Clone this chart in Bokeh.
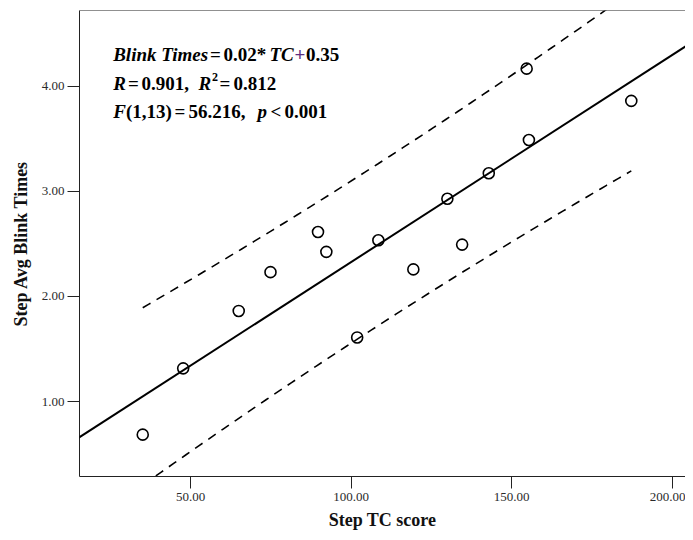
import numpy as np
from bokeh.plotting import figure
from bokeh.models import (Range1d, FixedTicker, NumeralTickFormatter, Slope, Span)
from bokeh.core.properties import value
from bokeh.embed import file_html
from bokeh.resources import INLINE

# ---- data ----
tc_score = [35.1, 47.7, 65.0, 74.9, 89.7, 92.3, 101.9, 108.5, 119.4, 130.0,
            134.6, 142.9, 155.4, 154.7, 187.3]
blink_times = [0.685, 1.316, 1.862, 2.231, 2.613, 2.424, 1.61, 2.534, 2.257, 2.929,
               2.493, 3.172, 3.488, 4.167, 3.860]
x_ticks = [50, 100, 150, 200]
y_ticks = [1, 2, 3, 4]
x_title = "Step TC score"
y_title = "Step Avg Blink Times"
t_crit = 1.771  # t(0.95, 13) for the dashed prediction band

# ---- regression from the data ----
xa = np.array(tc_score)
ya = np.array(blink_times)
n = len(xa)
b, a = np.polyfit(xa, ya, 1)
resid = ya - (a + b * xa)
s = np.sqrt((resid ** 2).sum() / (n - 2))
xm = xa.mean()
sxx = ((xa - xm) ** 2).sum()
xs = np.linspace(xa.min(), xa.max(), 80)
half = t_crit * s * np.sqrt(1 + 1 / n + (xs - xm) ** 2 / sxx)
fit = a + b * xs

FL, FT = 79, 10          # frame left / top in picture pixels
W, H = 685, 532
FW = W - FL              # frame width (right border 0)
FH = 468
PXU = 3.21               # pixels per TC unit
X0 = 15.4
X1 = X0 + FW / PXU
Y0, Y1 = 0.287, 4.72

p = figure(width=W, height=H, output_backend="svg", toolbar_location=None,
           x_range=Range1d(X0, X1), y_range=Range1d(Y0, Y1),
           min_border_left=FL, min_border_right=0, min_border_top=FT,
           min_border_bottom=H - FT - FH, background_fill_color="white",
           border_fill_color="white")
p.xgrid.visible = False
p.ygrid.visible = False
p.outline_line_color = None

serif = "Liberation Serif"
for ax in (p.xaxis[0], p.yaxis[0]):
    ax.axis_line_color = "#222222"
    ax.major_tick_line_color = "#222222"
    ax.major_tick_out = 12
    ax.major_tick_in = 0
    ax.minor_tick_line_color = None
    ax.major_label_text_font = serif
    ax.major_label_text_font_size = "13px"
    ax.major_label_text_color = "#2a2a2a"
    ax.axis_label_text_font = serif
    ax.axis_label_text_font_style = "bold"
    ax.axis_label_text_font_size = "18px"
    ax.axis_label_text_color = "#111111"
    ax.formatter = NumeralTickFormatter(format="0.00")
p.xaxis[0].ticker = FixedTicker(ticks=x_ticks)
p.yaxis[0].ticker = FixedTicker(ticks=y_ticks)
p.xaxis[0].axis_label = x_title
p.yaxis[0].axis_label = y_title
p.xaxis[0].major_label_standoff = 4
p.yaxis[0].major_label_standoff = 3
p.xaxis[0].axis_label_standoff = 6
p.yaxis[0].axis_label_standoff = 8

p.add_layout(Span(location=Y1, dimension="width", line_color="#222222", line_width=1))

# prediction band
p.line(xs, fit + half, line_color="black", line_width=1.6, line_dash="9 7")
p.line(xs, fit - half, line_color="black", line_width=1.6, line_dash="9 7")
# fit line
p.add_layout(Slope(gradient=b, y_intercept=a, line_color="black", line_width=2))

p.scatter(tc_score, blink_times, marker="circle", size=11, fill_color=None,
          line_color="black", line_width=1.6)

# ---- annotation (pieces positioned in picture pixels) ----
def dx(px):
    return X0 + (px - FL) / PXU

def dy(py):
    return Y1 - (py - FT) / FH * (Y1 - Y0)

pieces = [
    # text, x, baseline y, style, size, color
    ("Blink Times", 112.7, 54.5, "bold italic", "19px", "black"),
    ("=", 209.5, 54.5, "bold", "19px", "black"),
    ("0.02*", 223, 54.5, "bold", "19px", "black"),
    ("TC", 269, 54.5, "bold italic", "19px", "black"),
    ("+", 294, 54.5, "bold", "19px", "#5b2d82"),
    ("0.35", 305.5, 54.5, "bold", "19px", "black"),
    ("R", 112.7, 83.5, "bold italic", "19px", "black"),
    ("=", 127.5, 83.5, "bold", "19px", "black"),
    ("0.901,", 141, 83.5, "bold", "19px", "black"),
    ("R", 198, 83.5, "bold italic", "19px", "black"),
    ("2", 211.5, 77, "bold", "12px", "black"),
    ("=", 219, 83.5, "bold", "19px", "black"),
    ("0.812", 233, 83.5, "bold", "19px", "black"),
    ("F", 112.7, 111.7, "bold italic", "19px", "black"),
    ("(1,13)", 125.5, 111.7, "bold", "19px", "black"),
    ("=", 174, 111.7, "bold", "19px", "black"),
    ("56.216,", 188, 111.7, "bold", "19px", "black"),
    ("p", 257, 111.7, "bold italic", "19px", "black"),
    ("<", 270, 111.7, "bold", "19px", "black"),
    ("0.001", 284, 111.7, "bold", "19px", "black"),
]
for txt, px, py, style, size, col in pieces:
    p.text(x=[dx(px)], y=[dy(py)], text=[txt], text_font=value(serif),
           text_font_style=style, text_font_size=size, text_color=col,
           text_baseline="alphabetic", text_align="left")

open("out.html", "w").write(file_html(p, INLINE))
